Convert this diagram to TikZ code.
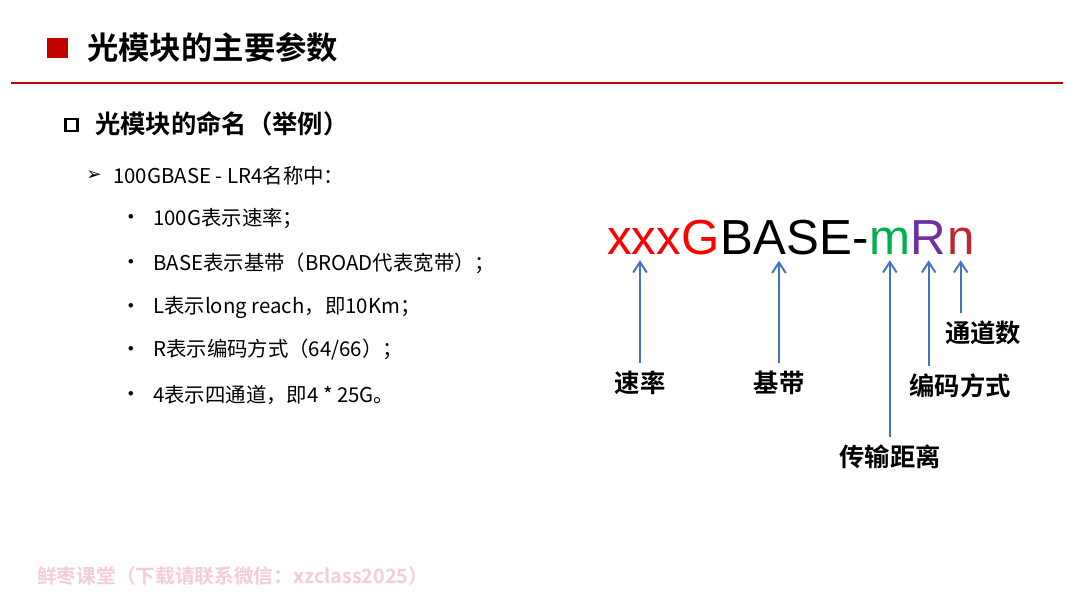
\documentclass[tikz,border=0pt]{standalone}
\usepackage{fontspec}
\setmainfont{Liberation Sans}
\newfontfamily\cjk{Noto Sans CJK SC}[BoldFont={Noto Sans CJK SC Bold}]
\newfontfamily\symfont{DejaVu Sans}
\usetikzlibrary{arrows.meta,positioning}
\definecolor{titlered}{HTML}{C00000}
\definecolor{rategreen}{HTML}{00B050}
\definecolor{codepurple}{HTML}{7030A0}
\definecolor{lanered}{HTML}{C0272D}
\definecolor{pointblue}{HTML}{4472C4}
\definecolor{wmpink}{HTML}{F4CDD5}
\begin{document}
\begin{tikzpicture}[
    x=0.025cm, y=-0.025cm,
    every node/.style={inner sep=0pt, font=\cjk},
    heading/.style={anchor=west, font=\cjk\bfseries\fontsize{22.3}{26}\selectfont},
    subheading/.style={anchor=west, font=\cjk\bfseries\fontsize{18}{22}\selectfont},
    body/.style={anchor=west, font=\cjk\fontsize{14.5}{17}\selectfont},
    dotmark/.style={font=\symfont\fontsize{11}{13}\selectfont},
    formula/.style={anchor=base west, font=\fontsize{35}{40}\selectfont},
    partname/.style={font=\cjk\bfseries\fontsize{18}{22}\selectfont},
    pointer/.style={draw=pointblue, line width=1.4pt,
        -{Straight Barb[length=2.6mm, width=3.4mm]},
        shorten <=0.2cm, shorten >=0.15cm}
]
  \fill[white] (0,0) rectangle (1080,608);
  \useasboundingbox (0,0) rectangle (1080,608);

  % title
  \node (mark) [fill=titlered, minimum width=0.5cm, minimum height=0.5cm] at (57.5,47.5) {};
  \node (title) [heading, right=0.48cm of mark] {光模块的主要参数};
  \draw[titlered, line width=1.3pt] (11,83) -- (1063,83);

  % left column
  \node (box) [draw, line width=1.5pt, minimum size=0.3cm] at (71.5,125) {};
  \node (naming) [subheading] at (95,124) {光模块的命名（举例）};
  \node (arrowmark) [font=\symfont\fontsize{13}{15}\selectfont] at (94,176) {➢};
  \node (example) [body] at (113,176) {100GBASE - LR4名称中：};
  \node (dot1) [dotmark] at (131,218) {•};
  \node (item1) [body] at (153,218) {100G表示速率；};
  \node (dot2) [dotmark] at (131,263) {•};
  \node (item2) [body] at (153,263) {BASE表示基带（BROAD代表宽带）；};
  \node (dot3) [dotmark] at (131,307) {•};
  \node (item3) [body] at (153,307) {L表示long reach，即10Km；};
  \node (dot4) [dotmark] at (131,350) {•};
  \node (item4) [body] at (153,350) {R表示编码方式（64/66）；};
  \node (dot5) [dotmark] at (131,395) {•};
  \node (item5) [body] at (153,395) {4表示四通道，即4 * 25G。};

  % name pattern
  \node (xxx) [formula, text=red] at (607,254) {xxx};
  \node (G) [formula, text=red] at (xxx.base east) {G};
  \node (BASE) [formula] at (G.base east) {BASE};
  \node (dash) [formula] at (BASE.base east) {-};
  \node (m) [formula, text=rategreen] at (dash.base east) {m};
  \node (R) [formula, text=codepurple] at (m.base east) {R};
  \node (n) [formula, text=lanered] at (R.base east) {n};

  \node (rate) [partname] at (640,383) {速率};
  \node (band) [partname] at (779,383) {基带};
  \node (dist) [partname] at (890,457) {传输距离};
  \node (code) [partname] at (960,386) {编码方式};
  \node (lanes) [partname] at (983,333) {通道数};

  \draw[pointer] (rate.north) -- (rate.north |- xxx.south);
  \draw[pointer] (band.north) -- (band.north |- BASE.south);
  \draw[pointer] (m |- dist.north) -- (m.south);
  \draw[pointer] (R |- code.north) -- (R.south);
  \draw[pointer] (n |- lanes.north) -- (n.south);

  \node (watermark) [anchor=west, text=wmpink, font=\cjk\bfseries\fontsize{14}{17}\selectfont]
    at (37,576) {鲜枣课堂（下载请联系微信：xzclass2025）};
\end{tikzpicture}
\end{document}
